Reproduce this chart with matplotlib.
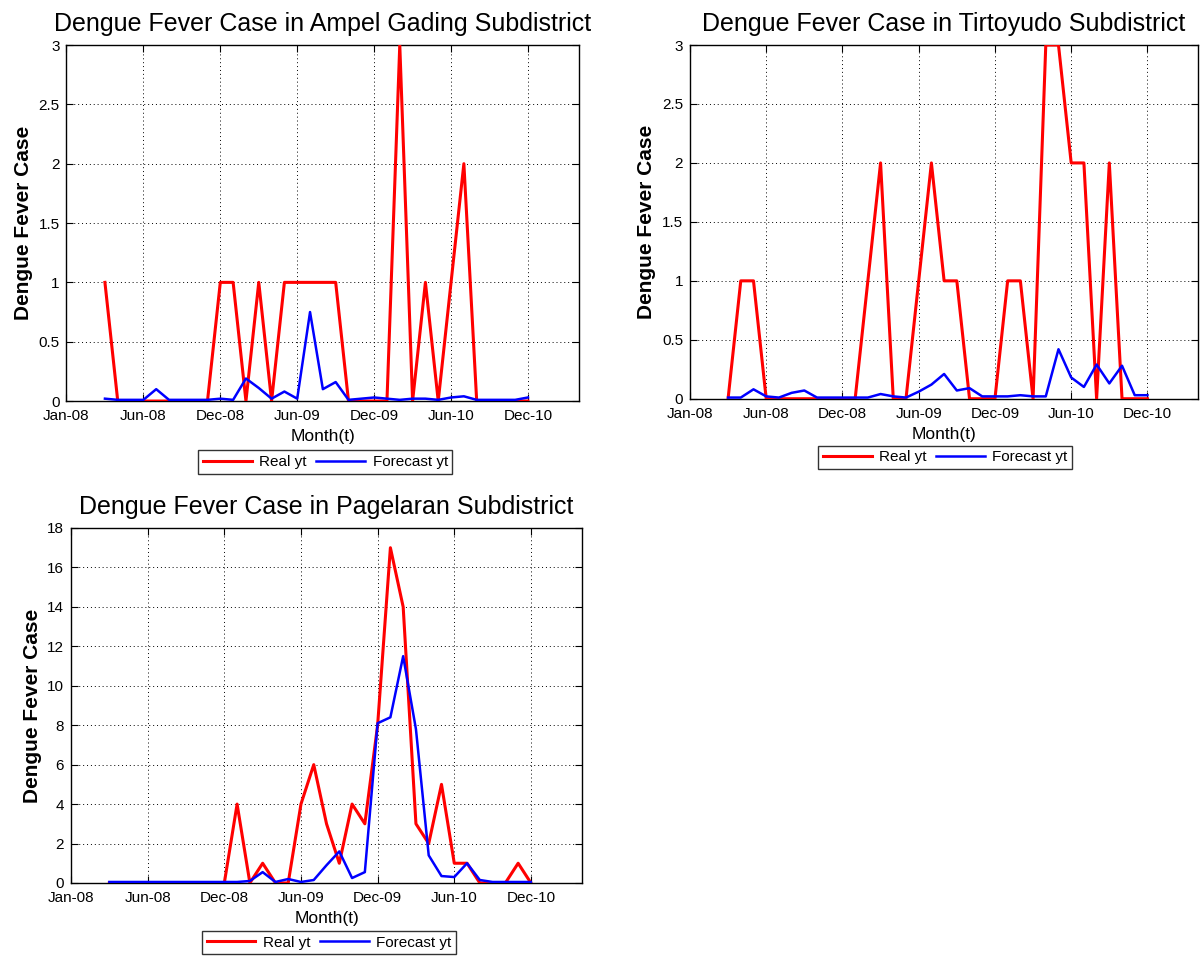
import numpy as np
import matplotlib
matplotlib.use("Agg")
import matplotlib.pyplot as plt

plt.rcParams['font.family'] = ['Liberation Sans', 'DejaVu Sans']

# Month index (0 = Jan-08) of each observation
months = np.arange(3, 37)

tick_pos = [0, 6, 12, 18, 24, 30, 36]
tick_labels = ['Jan-08', 'Jun-08', 'Dec-08', 'Jun-09', 'Dec-09', 'Jun-10', 'Dec-10']

# Ampel Gading
ampel_real = [1, 0, 0, 0, 0, 0, 0, 0, 0, 1, 1, 0, 1, 0, 1, 1, 1, 1, 1, 0,
              0, 0, 0, 3, 0, 1, 0, 1, 2, 0, 0, 0, 0, 0]
ampel_fcst = [0.02, 0.01, 0.01, 0.01, 0.10, 0.01, 0.01, 0.01, 0.01, 0.02,
              0.01, 0.19, 0.11, 0.02, 0.08, 0.02, 0.75, 0.10, 0.16, 0.01,
              0.02, 0.03, 0.02, 0.01, 0.02, 0.02, 0.01, 0.03, 0.04, 0.01,
              0.01, 0.01, 0.01, 0.03]

# Tirtoyudo
tirto_real = [0, 1, 1, 0, 0, 0, 0, 0, 0, 0, 0, 1, 2, 0, 0, 1, 2, 1, 1, 0,
              0, 0, 1, 1, 0, 3, 3, 2, 2, 0, 2, 0, 0, 0]
tirto_fcst = [0.01, 0.01, 0.08, 0.02, 0.01, 0.05, 0.07, 0.01, 0.01, 0.01,
              0.01, 0.01, 0.04, 0.02, 0.01, 0.06, 0.12, 0.21, 0.07, 0.09,
              0.02, 0.02, 0.02, 0.03, 0.02, 0.02, 0.42, 0.18, 0.10, 0.29,
              0.13, 0.28, 0.03, 0.03]

# Pagelaran
pagel_real = [0, 0, 0, 0, 0, 0, 0, 0, 0, 0, 4, 0, 1, 0, 0, 4, 6, 3, 1, 4,
              3, 8, 17, 14, 3, 2, 5, 1, 1, 0, 0, 0, 1, 0]
pagel_fcst = [0.05, 0.05, 0.05, 0.05, 0.05, 0.05, 0.05, 0.05, 0.05, 0.05,
              0.05, 0.10, 0.55, 0.05, 0.20, 0.05, 0.15, 0.90, 1.60, 0.25,
              0.55, 8.10, 8.40, 11.50, 7.80, 1.40, 0.35, 0.30, 1.00, 0.15,
              0.05, 0.05, 0.05, 0.05]

panels = [
    dict(title='Dengue Fever Case in Ampel Gading Subdistrict',
         real=ampel_real, fcst=ampel_fcst,
         rect=[0.0553, 0.5805, 0.4266, 0.3724],
         yticks=[0, 0.5, 1, 1.5, 2, 2.5, 3],
         ylabels=['0', '0.5', '1', '1.5', '2', '2.5', '3'],
         ylim=(0, 3), leg=(0.505, -0.171)),
    dict(title='Dengue Fever Case in Tirtoyudo Subdistrict',
         real=tirto_real, fcst=tirto_fcst,
         rect=[0.5740, 0.5829, 0.4229, 0.3700],
         yticks=[0, 0.5, 1, 1.5, 2, 2.5, 3],
         ylabels=['0', '0.5', '1', '1.5', '2', '2.5', '3'],
         ylim=(0, 3), leg=(0.502, -0.165)),
    dict(title='Dengue Fever Case in Pagelaran Subdistrict',
         real=pagel_real, fcst=pagel_fcst,
         rect=[0.0591, 0.0764, 0.4251, 0.3713],
         yticks=list(range(0, 19, 2)),
         ylabels=[str(v) for v in range(0, 19, 2)],
         ylim=(0, 18), leg=(0.505, -0.168)),
]

fig = plt.figure(figsize=(12.02, 9.56), dpi=100)

for p in panels:
    ax = fig.add_axes(p['rect'])
    ax.plot(months, p['real'], color='#ff0000', lw=2.2, label='Real yt', zorder=3)
    ax.plot(months, p['fcst'], color='#0000ff', lw=1.8, label='Forecast yt', zorder=4)
    ax.set_xlim(0, 40)
    ax.set_ylim(*p['ylim'])
    ax.set_xticks(tick_pos)
    ax.set_xticklabels(tick_labels)
    ax.set_yticks(p['yticks'])
    ax.set_yticklabels(p['ylabels'])
    ax.tick_params(direction='in', length=5, width=0.8, labelsize=11,
                   top=True, right=True, pad=5, colors='black')
    ax.tick_params(axis='x', pad=6)
    ax.grid(True, color='black', linestyle=(0, (1, 3)), linewidth=0.7)
    for s in ax.spines.values():
        s.set_linewidth(1.0)
        s.set_color('black')
    ax.set_title(p['title'], fontsize=18, pad=10)
    ax.set_xlabel('Month(t)', fontsize=12.5, labelpad=4)
    ax.set_ylabel('Dengue Fever Case', fontsize=15, fontweight='bold', labelpad=4)
    leg = ax.legend(loc='center', bbox_to_anchor=p['leg'], ncol=2, fontsize=11,
                    frameon=True, fancybox=False, shadow=False,
                    handlelength=3.2, handletextpad=0.5, columnspacing=0.6,
                    borderpad=0.3, borderaxespad=0)
    leg.get_frame().set_edgecolor('black')
    leg.get_frame().set_linewidth(1.0)

fig.savefig('out.png', dpi=100, facecolor='white')
